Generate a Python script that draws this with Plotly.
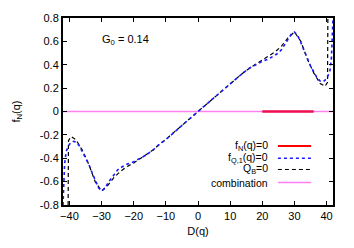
import plotly.graph_objects as go

# f_Q,1(q)=0 branch (blue dotted), left half; right half is antisymmetric
dq_left = [-42, -41.8, -41.5, -41, -40, -39, -38, -37, -36, -35, -34, -33, -32, -31, -30,
           -29, -28, -27, -26, -25, -24, -22, -20, -18, -16, -14, -12, -10, -8, -6, -4, -2, 0]
fq_left = [-0.8, -0.6, -0.45, -0.34, -0.28, -0.255, -0.26, -0.29, -0.34, -0.39, -0.45, -0.52, -0.59, -0.65, -0.68,
           -0.66, -0.61, -0.57, -0.53, -0.50, -0.48, -0.45, -0.43, -0.40, -0.37, -0.33, -0.28, -0.24, -0.19, -0.14, -0.095, -0.048, 0]

# Q_B=0 branch (black dashed), left half
qb_d_left = [-40.4, -40.3, -39.5, -38, -36, -34, -32, -30, -28, -26, -24, -22, -20, -18, -16, -14, -12, -10, -8, -6, -4, -2, 0]
qb_v_left = [-0.8, -0.25, -0.215, -0.24, -0.33, -0.45, -0.6, -0.68, -0.63, -0.56, -0.51, -0.47, -0.44, -0.405, -0.37, -0.33, -0.28, -0.24, -0.19, -0.14, -0.095, -0.048, 0]

# f_N(q)=0 segment (red) and combination (pink), both on the zero line
fn_d = [20, 36]
fn_v = [0, 0]
comb_d = [-42, 42]
comb_v = [0, 0]

fq_d = dq_left + [-d for d in reversed(dq_left[:-1])]
fq_v = fq_left + [-v for v in reversed(fq_left[:-1])]
qb_d = qb_d_left + [-d for d in reversed(qb_d_left[:-1])]
qb_v = qb_v_left + [-v for v in reversed(qb_v_left[:-1])]

pink = "#ff80f0"
red = "#ee1050"
blue = "#1a1aff"

fig = go.Figure()
fig.add_trace(go.Scatter(x=comb_d, y=comb_v, mode="lines", line=dict(color=pink, width=1.5)))
fig.add_trace(go.Scatter(x=fn_d, y=fn_v, mode="lines", line=dict(color=red, width=2.5)))
fig.add_trace(go.Scatter(x=qb_d, y=qb_v, mode="lines", line=dict(color="black", width=1.2, dash="4px,3px")))
fig.add_trace(go.Scatter(x=fq_d, y=fq_v, mode="lines", line=dict(color=blue, width=1.6, dash="dot")))

font = dict(family="Liberation Sans, Arial, sans-serif", size=11, color="black")
leg_font = dict(family="Liberation Sans, Arial, sans-serif", size=10.5, color="black")

# manual gnuplot-style legend: text on the left, sample on the right
leg_labels = ["f<sub>N</sub>(q)=0", "f<sub>Q,1</sub>(q)=0", "Q<sub>B</sub>=0", "combination"]
leg_styles = [dict(color="red", width=2), dict(color=blue, width=1.6, dash="dot"),
              dict(color="black", width=1, dash="4px,3px"), dict(color=pink, width=1.5)]
leg_y = [0.315, 0.25, 0.19, 0.12]
for lab, st, yy in zip(leg_labels, leg_styles, leg_y):
    fig.add_annotation(x=0.767, y=yy, xref="paper", yref="paper", text=lab, showarrow=False,
                       xanchor="right", yanchor="middle", font=leg_font)
    fig.add_shape(type="line", xref="paper", yref="paper", x0=0.796, x1=0.919, y0=yy, y1=yy, line=st)

fig.add_annotation(x=-30.5, y=0.615, text="G<sub>0</sub> = 0.14", showarrow=False,
                   xanchor="left", yanchor="middle", font=font)

axis = dict(showline=True, linecolor="black", linewidth=2, mirror="ticks", ticks="inside",
            ticklen=4, tickcolor="black", showgrid=False, zeroline=False, tickfont=font)
fig.update_xaxes(range=[-42, 42], tickvals=[-40, -30, -20, -10, 0, 10, 20, 30, 40],
                 title=dict(text="D(q)", font=font, standoff=6), **axis)
fig.update_yaxes(range=[-0.8, 0.8], tickvals=[-0.8, -0.6, -0.4, -0.2, 0, 0.2, 0.4, 0.6, 0.8],
                 ticktext=["-0.8", "-0.6", "-0.4", "-0.2", "0", "0.2", "0.4", "0.6", "0.8"],
                 title=dict(text="f<sub>N</sub>(q)", font=font, standoff=17), **axis)
fig.update_layout(width=354, height=248, margin=dict(l=63, r=21, t=15, b=38),
                  paper_bgcolor="white", plot_bgcolor="white", showlegend=False, font=font)
fig.write_html("out.html", config={"displayModeBar": False},
               post_script="document.body.style.margin='0px';")
